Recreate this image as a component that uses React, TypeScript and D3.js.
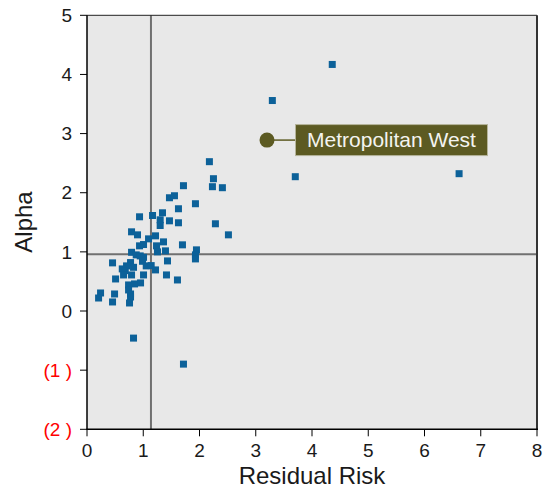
import React from "react";
import * as d3 from "d3";

const residualRisk = [
  2.248, 1.715, 2.23, 2.407, 1.466, 1.555, 1.928, 1.626, 0.934, 1.165,
  1.342, 1.301, 1.466, 1.301, 1.626, 2.283, 0.792, 0.898, 2.514, 1.094,
  1.218, 1.36, 0.934, 1.005, 1.236, 1.697, 1.253, 1.395, 1.946, 0.792,
  0.875, 0.946, 1.005, 1.928, 1.928, 0.987, 1.431, 0.454, 0.774, 0.703,
  0.827, 0.627, 1.053, 1.141, 1.218, 0.68, 0.65, 0.792, 1.005, 1.413,
  0.508, 1.608, 0.739, 0.845, 0.952, 0.739, 0.241, 0.49, 0.774, 0.206,
  0.774, 0.454, 0.756, 0.827, 1.715, 2.176, 3.703, 6.615, 3.295, 4.36,
];
const alpha = [
  2.237, 2.119, 2.102, 2.085, 1.915, 1.949, 1.814, 1.729, 1.593, 1.615,
  1.661, 1.542, 1.525, 1.446, 1.492, 1.475, 1.339, 1.288, 1.288, 1.22,
  1.271, 1.169, 1.102, 1.124, 1.102, 1.119, 1.0, 1.017, 1.034, 0.993,
  0.949, 0.932, 0.908, 0.949, 0.881, 0.841, 0.847, 0.814, 0.819, 0.763,
  0.739, 0.712, 0.763, 0.768, 0.695, 0.683, 0.61, 0.61, 0.61, 0.61,
  0.542, 0.525, 0.441, 0.458, 0.475, 0.356, 0.305, 0.288, 0.288, 0.22,
  0.237, 0.153, 0.136, -0.458, -0.898, 2.525, 2.271, 2.322, 3.559, 4.169,
];

const xTicks = [0, 1, 2, 3, 4, 5, 6, 7, 8];
const yTicks = [5, 4, 3, 2, 1, 0, -1, -2];
const yTickLabels = ["5", "4", "3", "2", "1", "0", "(1 )", "(2 )"];

const refX = 1.137;
const refY = 0.96;

const highlightName = "Metropolitan West";
const highlightX = 3.2;
const highlightY = 2.89;

export default function App() {
  const W = 543;
  const H = 491;
  const left = 87;
  const top = 15.3;
  const right = 537;
  const bottom = 429.3;

  const x = d3.scaleLinear().domain([0, 8]).range([left, right]);
  const y = d3.scaleLinear().domain([-2, 5]).range([bottom, top]);

  const font = "Arial, 'Liberation Sans', Helvetica, sans-serif";
  const sq = 7;

  const hx = x(highlightX);
  const hy = y(highlightY);
  const boxX = hx + 28.5;
  const boxW = 192;
  const boxH = 31;

  return (
    <svg
      width={W}
      height={H}
      style={{ position: "absolute", left: 0, top: 0 }}
      fontFamily={font}
    >
      <rect x={0} y={0} width={W} height={H} fill="#ffffff" />
      <rect
        x={left}
        y={top}
        width={right - left}
        height={bottom - top}
        fill="#e8e8e8"
      />
      {/* reference lines */}
      <line
        x1={x(refX)}
        x2={x(refX)}
        y1={top}
        y2={bottom}
        stroke="#707070"
        strokeWidth={2}
      />
      <line
        x1={left}
        x2={right}
        y1={y(refY)}
        y2={y(refY)}
        stroke="#707070"
        strokeWidth={2}
      />
      {/* frame */}
      <line x1={left} x2={right} y1={top} y2={top} stroke="#222" strokeWidth={1} />
      <line x1={right} x2={right} y1={top} y2={bottom} stroke="#333" strokeWidth={2} />
      <line x1={left} x2={left} y1={top} y2={bottom + 0.5} stroke="#000" strokeWidth={1.5} />
      <line x1={left - 0.5} x2={right + 1} y1={bottom} y2={bottom} stroke="#000" strokeWidth={1.5} />

      {/* y ticks */}
      {yTicks.map((t, i) => (
        <g key={"y" + t}>
          <line x1={left - 7} x2={left} y1={y(t)} y2={y(t)} stroke="#000" strokeWidth={1} />
          <text
            x={72}
            y={y(t)}
            dy="0.35em"
            textAnchor="end"
            fontSize={19}
            fill={t < 0 ? "#ff0000" : "#1a1a1a"}
          >
            {yTickLabels[i]}
          </text>
        </g>
      ))}
      {/* x ticks */}
      {xTicks.map((t) => (
        <g key={"x" + t}>
          <line x1={x(t)} x2={x(t)} y1={bottom} y2={bottom + 7} stroke="#000" strokeWidth={1} />
          <text x={x(t)} y={457} textAnchor="middle" fontSize={19} fill="#1a1a1a">
            {t}
          </text>
        </g>
      ))}

      {/* axis titles */}
      <text x={312} y={484} textAnchor="middle" fontSize={24} fill="#1a1a1a">
        Residual Risk
      </text>
      <text
        transform={`translate(32, 222) rotate(-90)`}
        textAnchor="middle"
        fontSize={24}
        fill="#1a1a1a"
      >
        Alpha
      </text>

      {/* points */}
      {residualRisk.map((v, i) => (
        <rect
          key={i}
          x={x(v) - sq / 2}
          y={y(alpha[i]) - sq / 2}
          width={sq}
          height={sq}
          fill="#0c6199"
        />
      ))}

      {/* highlight */}
      <line x1={hx} x2={boxX} y1={hy} y2={hy} stroke="#5c5a22" strokeWidth={1.5} />
      <circle cx={hx} cy={hy} r={7.5} fill="#5c5a22" />
      <rect
        x={boxX}
        y={hy - boxH / 2}
        width={boxW}
        height={boxH}
        fill="#5c5a22"
        stroke="#b5b49a"
        strokeWidth={1}
      />
      <text
        x={boxX + boxW / 2}
        y={hy}
        dy="0.35em"
        textAnchor="middle"
        fontSize={21}
        fill="#f4f4f0"
      >
        {highlightName}
      </text>
    </svg>
  );
}
